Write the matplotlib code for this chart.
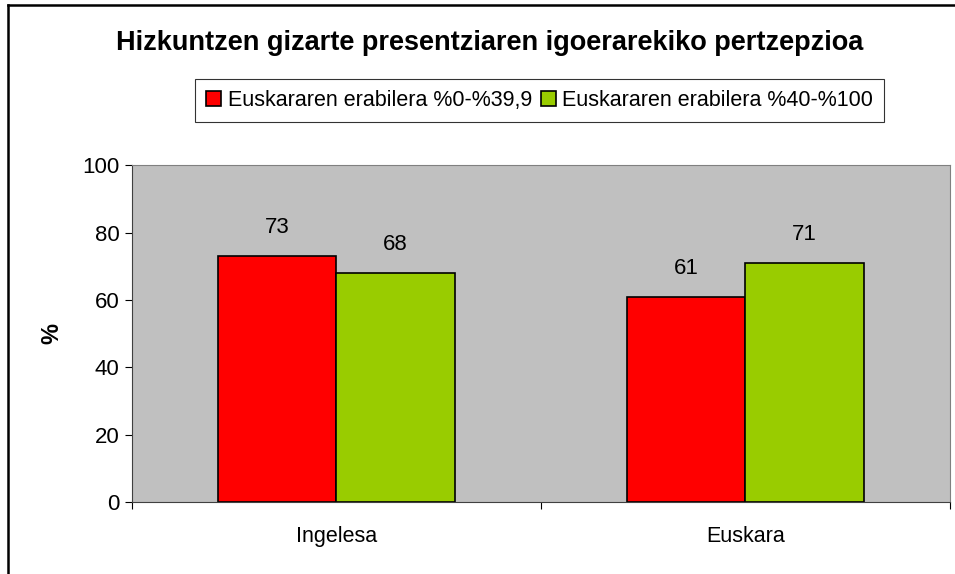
import numpy as np
import matplotlib.pyplot as plt
from matplotlib.lines import Line2D

plt.rcParams['font.family'] = ['Liberation Sans', 'DejaVu Sans']

categories = ['Ingelesa', 'Euskara']
series_names = ['Euskararen erabilera %0-%39,9', 'Euskararen erabilera %40-%100']
low_use = [73, 61]
high_use = [68, 71]
colors = ['#FF0000', '#99CC00']

fig = plt.figure(figsize=(9.55, 5.74), dpi=100)
ax = fig.add_axes([0.1382, 0.1246, 0.8565, 0.5879])
ax.set_facecolor('#C0C0C0')

x = np.arange(len(categories))
w = 0.289
bars1 = ax.bar(x - w / 2, low_use, w, color=colors[0], edgecolor='black', linewidth=1.2, label=series_names[0])
bars2 = ax.bar(x + w / 2, high_use, w, color=colors[1], edgecolor='black', linewidth=1.2, label=series_names[1])

for bars, vals in ((bars1, low_use), (bars2, high_use)):
    for b, v in zip(bars, vals):
        ax.annotate(str(v), (b.get_x() + b.get_width() / 2, v), xytext=(0, 20.5),
                    textcoords='offset points', ha='center', va='center', fontsize=16)

ax.set_xlim(-0.5, 1.5)
ax.set_ylim(0, 100)
ax.set_yticks(range(0, 101, 20))
ax.tick_params(axis='y', labelsize=16, length=5, direction='out', pad=4)
ax.set_xticks([-0.5, 0.5, 1.5])
ax.set_xticklabels([])
ax.set_xticks(x, minor=True)
ax.set_xticklabels(categories, minor=True, fontsize=15.5)
ax.tick_params(axis='x', which='major', length=5, direction='out')
ax.tick_params(axis='x', which='minor', length=0, pad=17)

for side in ('left', 'bottom'):
    ax.spines[side].set_color('#404040')
for side in ('top', 'right'):
    ax.spines[side].set_color('#808080')

ax.set_ylabel('%', fontsize=17, fontweight='bold')
ax.yaxis.set_label_coords(-0.084, 0.5)

fig.text(0.513, 0.925, 'Hizkuntzen gizarte presentziaren igoerarekiko pertzepzioa',
         ha='center', va='center', fontsize=19.5, fontweight='bold')

leg = fig.legend(loc='center', bbox_to_anchor=(0.565, 0.825), ncol=2, fontsize=15.5,
                 frameon=True, fancybox=False, edgecolor='black', handlelength=0.7,
                 handleheight=0.7, handletextpad=0.3, columnspacing=0.4, borderpad=0.5)
leg.get_frame().set_linewidth(0.8)

# frame lines on the left and top edges of the chart
fig.add_artist(Line2D([0.0085, 0.0085], [0.0, 0.991], transform=fig.transFigure, color='black', linewidth=1.8))
fig.add_artist(Line2D([0.0085, 1.0], [0.991, 0.991], transform=fig.transFigure, color='black', linewidth=1.8))

fig.savefig('out.png', dpi=100)
